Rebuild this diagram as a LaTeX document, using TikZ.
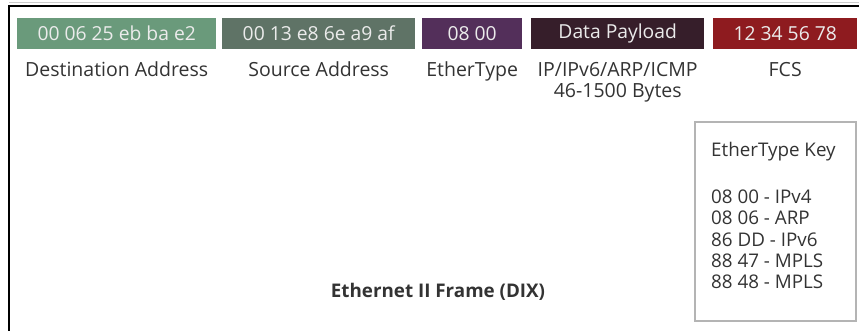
\documentclass[tikz,border=0pt]{standalone}
\usepackage{fontspec}
\setmainfont{Open Sans}
\definecolor{txt}{HTML}{333333}
\definecolor{dstc}{HTML}{6A9A7B}
\definecolor{srcc}{HTML}{5F7366}
\definecolor{typc}{HTML}{532F5A}
\definecolor{payc}{HTML}{361E2A}
\definecolor{fcsc}{HTML}{8E1B1F}
\definecolor{keyc}{HTML}{B4B4B4}
\tikzset{
  field/.style={inner sep=0pt, minimum height=31pt, text=white!92!black,
    font=\fontsize{19.3}{20}\selectfont, anchor=north west},
  caption/.style={text=txt, font=\fontsize{19.5}{21}\selectfont, align=center, anchor=base, inner sep=0pt},
  keyline/.style={text=txt, font=\fontsize{18.8}{19.5}\selectfont, anchor=base west, inner sep=0pt}
}
\begin{document}
\begin{tikzpicture}[x=1pt,y=-1pt]
  \useasboundingbox (0,0) rectangle (859,331);
  % outer frame: top and left edges only
  \draw[black!20, line width=1pt] (9,3) -- (859,3);
  \draw[black, line width=2.2pt] (9,331) -- (9,6) -- (859,6);
  % frame fields
  \node[field, fill=dstc, minimum width=199pt] (dst) at (17,18) {00 06 25 eb ba e2};
  \node[field, fill=srcc, minimum width=193pt] (src) at (222,18) {00 13 e8 6e a9 af};
  \node[field, fill=typc, minimum width=100pt] (typ) at (422,18) {08 00};
  \node[field, fill=payc, minimum width=173pt] (pay) at (531,18) {Data Payload};
  \node[field, fill=fcsc, minimum width=144pt] (fcs) at (713,18) {12 34 56 78};
  % field captions (base anchor sits on the last line)
  \node[caption] (dstl) at ([yshift=-27pt]dst.south) {Destination Address};
  \node[caption] (srcl) at ([yshift=-27pt]src.south) {Source Address};
  \node[caption] (typl) at ([yshift=-27pt]typ.south) {EtherType};
  \node[caption] (payl) at ([yshift=-48pt]pay.south) {IP/IPv6/ARP/ICMP\\46-1500 Bytes};
  \node[caption] (fcsl) at ([yshift=-27pt]fcs.south) {FCS};
  % EtherType key
  \draw[keyc, line width=1.8pt] (695,122) rectangle (856,321);
  \node[keyline] (keyt) at (711,157) {EtherType Key};
  \foreach \code [count=\i] in {08 00 - IPv4, 08 06 - ARP, 86 DD - IPv6, 88 47 - MPLS, 88 48 - MPLS}
    \node[keyline] (key\i) at (711,{204+21*(\i-1)}) {\code};
  % title
  \node[text=txt, font=\fontsize{18.8}{20}\bfseries\selectfont, inner sep=0pt, anchor=base] (title) at (438,297) {Ethernet II Frame (DIX)};
\end{tikzpicture}
\end{document}
